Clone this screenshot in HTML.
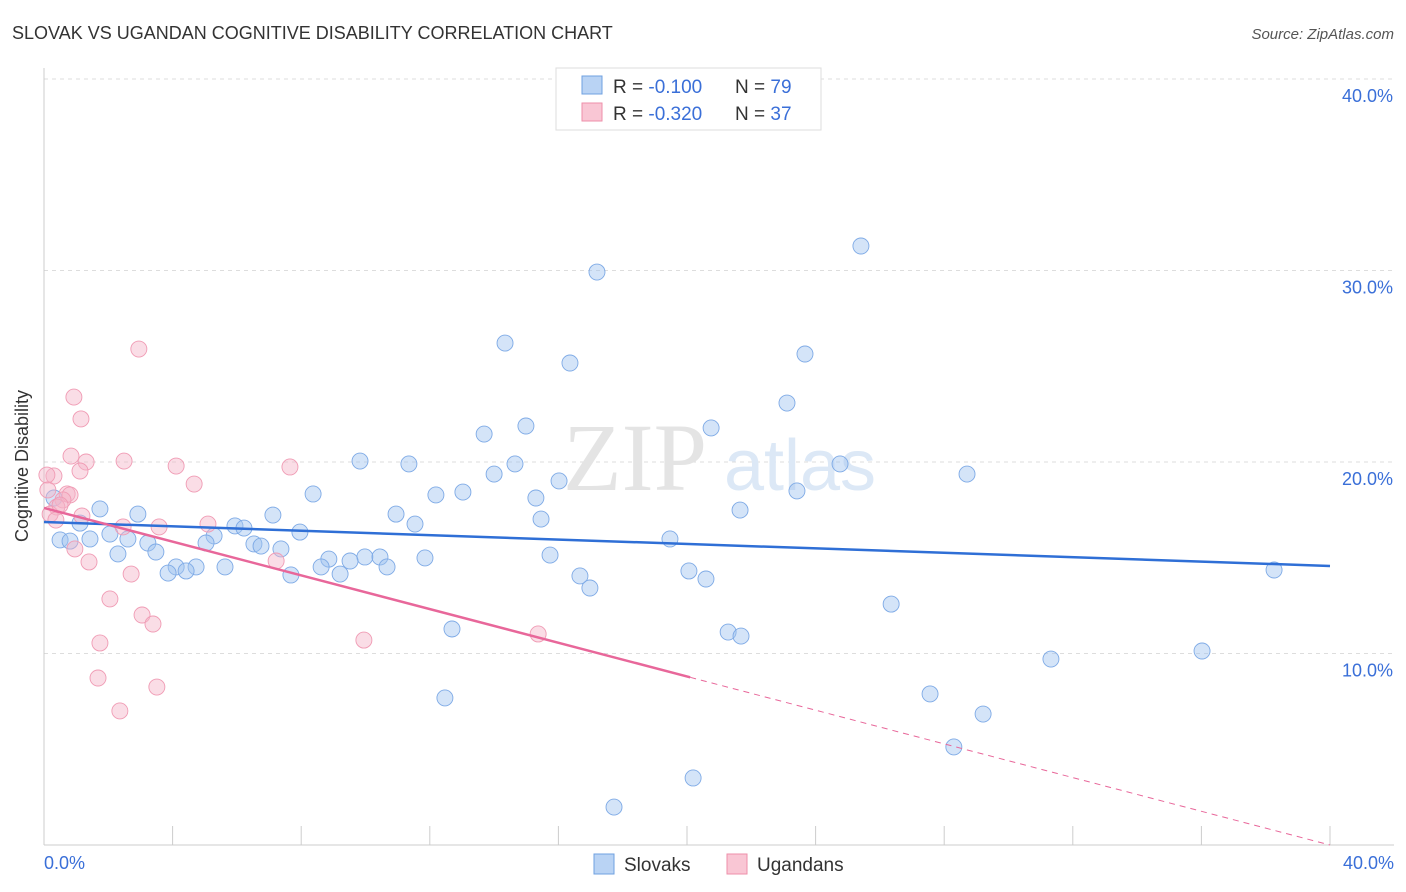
<!DOCTYPE html>
<html><head><meta charset="utf-8">
<style>
body{margin:0;background:#fff;font-family:"Liberation Sans",sans-serif;}
svg{display:block}
</style></head>
<body>
<svg id="chart" width="1406" height="892" xmlns="http://www.w3.org/2000/svg">
<text x="12" y="39" font-size="18" fill="#333">SLOVAK VS UGANDAN COGNITIVE DISABILITY CORRELATION CHART</text>
<text x="1394" y="39" font-size="15" fill="#555" font-style="italic" text-anchor="end">Source: ZipAtlas.com</text>
<g id="grid"></g>
<g id="wm">
<text x="635" y="490" font-size="96" font-family="Liberation Serif,serif" fill="#e4e4e4" text-anchor="middle">ZIP</text>
<text x="800" y="490" font-size="72" fill="#dce8f6" text-anchor="middle">atlas</text>
</g>
<line x1="44" y1="68" x2="44" y2="845" stroke="#ccc"/>
<line x1="44" y1="845" x2="1394" y2="845" stroke="#ccc"/>
<g id="ticks"></g>
<g id="pts"></g>
<g id="lines"></g>
<text x="20" y="458" font-size="18" fill="#333" transform="rotate(-90 28 458)" text-anchor="middle">Cognitive Disability</text>
<text x="44" y="869" font-size="18" fill="#3a6fd8">0.0%</text>
<text x="1394" y="869" font-size="18" fill="#3a6fd8" text-anchor="end">40.0%</text>
<g>
<rect x="556" y="68" width="265" height="62" fill="#fff" stroke="#ddd"/>
<rect x="582" y="76" width="20" height="18" fill="#b9d3f4" stroke="#6fa0e0"/>
<text x="613" y="93" font-size="19" fill="#333">R = <tspan fill="#3a6fd8">-0.100</tspan></text>
<text x="735" y="93" font-size="19" fill="#333">N = <tspan fill="#3a6fd8">79</tspan></text>
<rect x="582" y="103" width="20" height="18" fill="#f9c6d4" stroke="#ee8faa"/>
<text x="613" y="120" font-size="19" fill="#333">R = <tspan fill="#3a6fd8">-0.320</tspan></text>
<text x="735" y="120" font-size="19" fill="#333">N = <tspan fill="#3a6fd8">37</tspan></text>
</g>
<g>
<rect x="594" y="854" width="20" height="20" fill="#b9d3f4" stroke="#6fa0e0"/>
<text x="624" y="871" font-size="19" fill="#333">Slovaks</text>
<rect x="727" y="854" width="20" height="20" fill="#f9c6d4" stroke="#ee8faa"/>
<text x="757" y="871" font-size="19" fill="#333">Ugandans</text>
</g>
</svg>
<script>
const yTicks=[10,20,30,40];
const yTickLabels=["10.0%","20.0%","30.0%","40.0%"];
const slovakPx=[[597,272],[861,246],[505,343],[570,363],[805,354],[787,403],[711,428],[526,426],[484,434],[360,461],[409,464],[515,464],[840,464],[967,474],[494,474],[559,481],[463,492],[436,495],[797,491],[536,498],[313,494],[100,509],[138,514],[273,515],[396,514],[740,510],[541,519],[415,524],[54,498],[80,523],[235,526],[244,528],[300,532],[214,536],[110,534],[128,539],[60,540],[70,541],[90,539],[148,543],[206,543],[254,544],[261,546],[281,549],[156,552],[118,554],[550,555],[425,558],[329,559],[365,557],[380,557],[350,561],[670,539],[387,567],[225,567],[196,567],[176,567],[168,573],[186,571],[321,567],[340,574],[291,575],[580,576],[689,571],[706,579],[590,588],[1274,570],[891,604],[452,629],[728,632],[741,636],[1051,659],[1202,651],[930,694],[445,698],[983,714],[954,747],[693,778],[614,807]];
const ugandanPx=[[139,349],[74,397],[81,419],[71,456],[86,462],[124,461],[176,466],[290,467],[80,471],[54,476],[47,475],[194,484],[67,494],[70,495],[63,500],[57,507],[50,514],[82,516],[56,520],[123,527],[159,527],[208,524],[75,549],[89,562],[276,561],[131,574],[110,599],[142,615],[153,624],[100,643],[364,640],[538,634],[98,678],[157,687],[120,711],[60,505],[48,490]];
const slovakX=slovakPx.map(p=>+((p[0]-44)/32.15).toFixed(2));
const slovakY=slovakPx.map(p=>+((845-p[1])/19.15).toFixed(2));
const ugandanX=ugandanPx.map(p=>+((p[0]-44)/32.15).toFixed(2));
const ugandanY=ugandanPx.map(p=>+((845-p[1])/19.15).toFixed(2));
const slovakTrend=[16.87,14.57];
const ugandanTrend=[17.6,0];
const ugandanSolidEnd=20.1;

const X=v=>44+v*32.15, Y=v=>845-v*19.15;
const NS="http://www.w3.org/2000/svg";
function mk(t,a,p){const e=document.createElementNS(NS,t);for(const k in a)e.setAttribute(k,a[k]);p.appendChild(e);return e;}
const grid=document.getElementById('grid');
yTicks.forEach((t,i)=>{
 const l=mk('line',{x1:44,x2:1394,y1:Y(t),y2:Y(t),stroke:'#ddd','stroke-dasharray':'4,4'},grid);
 
 
 const tx=mk('text',{x:1393,y:Y(t)+23,'font-size':18,fill:'#3a6fd8','text-anchor':'end'},grid);
 tx.textContent=yTickLabels[i];
 
 
});
const tk=document.getElementById('ticks');
for(let k=1;k<=10;k++){
 const l=mk('line',{x1:X(k*4),x2:X(k*4),y1:826,y2:845,stroke:'#ccc'},tk);
 
 
}
const pts=document.getElementById('pts');
slovakX.forEach((x,i)=>{
 const c=mk('circle',{cx:X(x),cy:Y(slovakY[i]),r:8,fill:'rgba(160,195,240,0.45)',stroke:'#7eaae6','stroke-width':0.9},pts);
 
 
});
ugandanX.forEach((x,i)=>{
 const c=mk('circle',{cx:X(x),cy:Y(ugandanY[i]),r:8,fill:'rgba(245,180,200,0.45)',stroke:'#f09bb4','stroke-width':0.9},pts);
 
 
});
const ln=document.getElementById('lines');
const b=mk('line',{x1:X(0),y1:Y(slovakTrend[0]),x2:X(40),y2:Y(slovakTrend[1]),stroke:'#2f6fd6','stroke-width':2.5},ln);


const uy=x=>ugandanTrend[0]+(ugandanTrend[1]-ugandanTrend[0])*x/40;
const p1=mk('line',{x1:X(0),y1:Y(uy(0)),x2:X(ugandanSolidEnd),y2:Y(uy(ugandanSolidEnd)),stroke:'#e8679a','stroke-width':2.5},ln);


const p2=mk('line',{x1:X(ugandanSolidEnd),y1:Y(uy(ugandanSolidEnd)),x2:X(40),y2:Y(uy(40)),stroke:'#e8679a','stroke-width':1,'stroke-dasharray':'6,5'},ln);


</script>
</body></html>
